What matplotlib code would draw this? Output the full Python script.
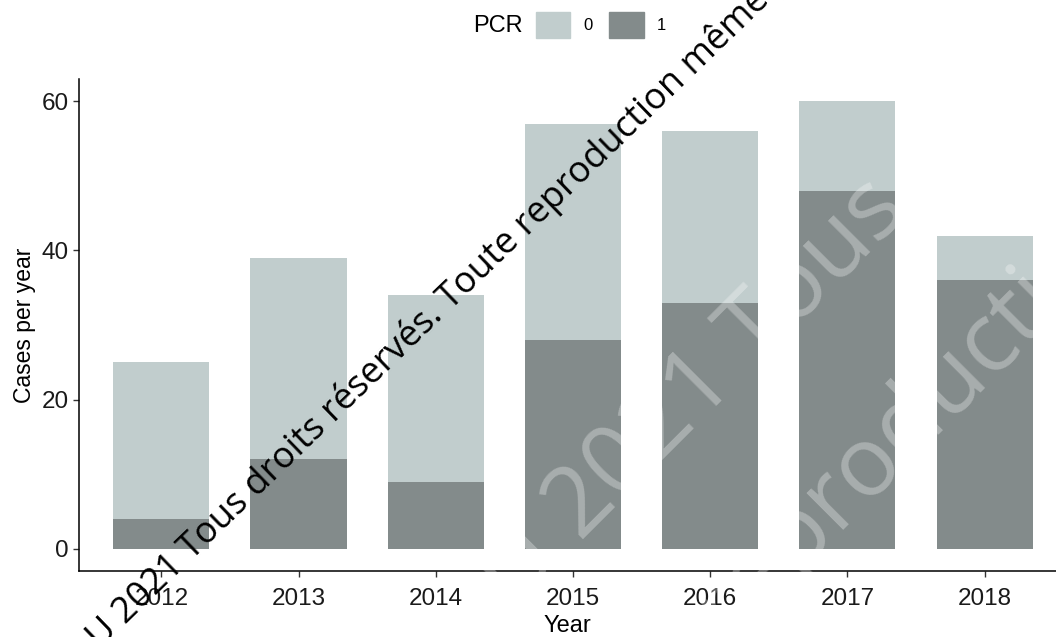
import numpy as np
import matplotlib
matplotlib.use("Agg")
import matplotlib.pyplot as plt
from matplotlib.patches import Patch

plt.rcParams["font.family"] = ["Liberation Sans", "DejaVu Sans"]

years = ["2012", "2013", "2014", "2015", "2016", "2017", "2018"]
pcr1 = [4, 12, 9, 28, 33, 48, 36]
pcr0 = [21, 27, 25, 29, 23, 12, 6]

col0 = "#C1CDCD"
col1 = "#838B8B"

W, H = 1056, 637
fig = plt.figure(figsize=(W/100, H/100), dpi=100)
ax = fig.add_axes([79/W, 1-571/H, 1-79/W, (571-79)/H])

x = np.arange(1, len(years)+1)
ax.bar(x, pcr1, width=0.7, color=col1, zorder=2)
ax.bar(x, pcr0, width=0.7, bottom=pcr1, color=col0, zorder=2)

ax.set_xlim(0.4, 0.4 + (W-79)/137.2)
ax.set_ylim(-3, 63)
ax.set_xticks(x)
ax.set_xticklabels(years)
ax.set_yticks([0, 20, 40, 60])
ax.tick_params(labelsize=17.5, colors="#333333", length=4, width=1)
ax.tick_params(axis="x", pad=8)
for lab in ax.get_xticklabels() + ax.get_yticklabels():
    lab.set_color("#1a1a1a")
ax.spines["top"].set_visible(False)
ax.spines["right"].set_visible(False)
for s in ("left", "bottom"):
    ax.spines[s].set_linewidth(1.1)
ax.set_xlabel("Year", fontsize=17, labelpad=4)
ax.set_ylabel("Cases per year", fontsize=16.5, labelpad=4)

# legend on top
fig.text(473/W, 1-26/H, "PCR", fontsize=17, ha="left", va="center")
fig.legend(handles=[Patch(color=col0, label="0"), Patch(color=col1, label="1")],
           loc="center left", bbox_to_anchor=(536/W, 1-25/H), ncol=2,
           frameon=False, fontsize=12, handlelength=2.05, handleheight=2.1,
           handletextpad=0.8, columnspacing=1.0, borderaxespad=0, borderpad=0)

# watermarks
wm = ["Open Sans", "DejaVu Sans"]
fig.text(100/W, 1-650/H, "U 2021 Tous droits réservés. Toute reproduction même partielle interdite",
         fontsize=26, family=wm, rotation=44,
         rotation_mode="anchor", ha="left", va="baseline", color="black")
fig.text(512/W, 1-610/H, "U 2021 Tous droits",
         fontsize=70, family=wm, rotation=45,
         rotation_mode="anchor", ha="left", va="baseline", color="white", alpha=0.3)
fig.text(727/W, 1-638/H, "reproduction",
         fontsize=70, family=wm, rotation=45,
         rotation_mode="anchor", ha="left", va="baseline", color="white", alpha=0.3)

fig.savefig("out.png", dpi=100)
